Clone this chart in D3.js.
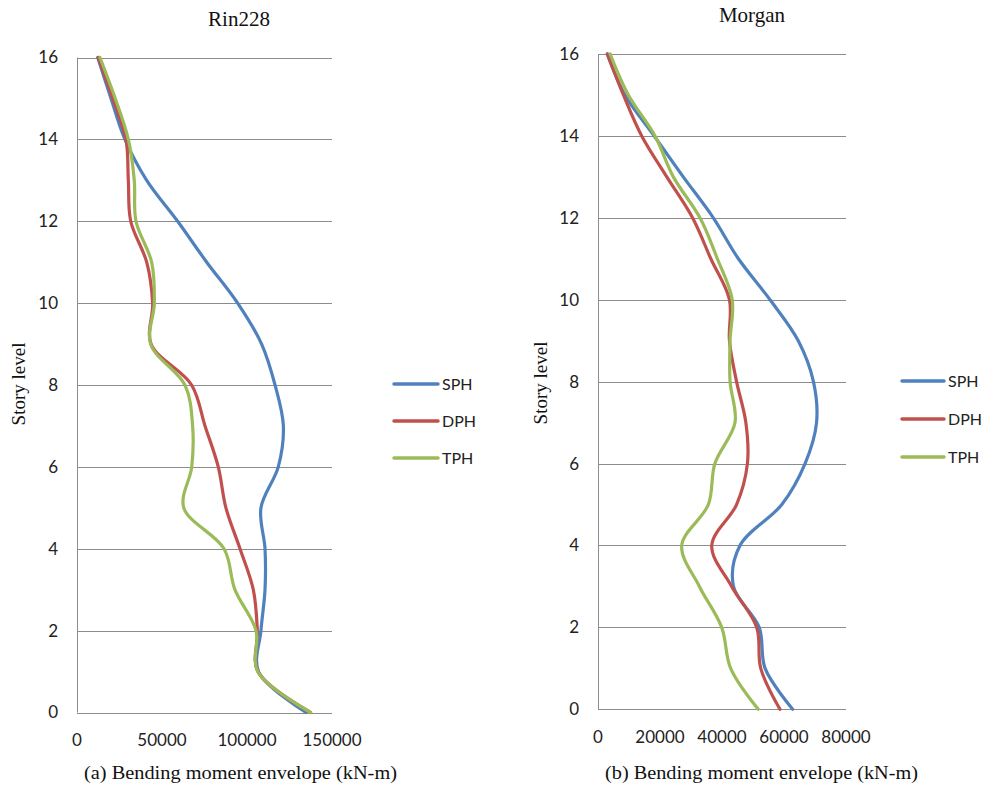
<!DOCTYPE html>
<html>
<head>
<meta charset="utf-8">
<script src="https://cdn.jsdelivr.net/npm/d3@7"></script>
<style>
  body { margin: 0; background: #fff; }
  svg { display: block; }
</style>
</head>
<body>
<div id="chart"></div>
<script>
// story levels 0..16
const levels = d3.range(0, 17);
const seriesNames = ["SPH", "DPH", "TPH"];
const colors = ["#4F81BD", "#C0504D", "#9BBB59"];
const yTicks = [0, 2, 4, 6, 8, 10, 12, 14, 16];

// (a) Rin228, values from level 0 to level 16
const rinSPH = [134700, 106800, 108200, 110600, 110600, 108200, 118400, 121400, 116500, 108600, 94500, 76300, 59200, 41000, 28200, 20000, 12200];
const rinDPH = [137400, 106400, 106100, 103700, 95900, 87600, 83100, 75300, 67400, 43600, 44500, 41000, 31600, 30200, 28800, 21000, 12500];
const rinTPH = [137400, 106300, 105300, 92900, 86500, 62800, 67500, 68000, 63500, 43300, 45500, 43900, 34700, 33700, 30200, 22500, 13500];
const rinTicks = [0, 50000, 100000, 150000];

// (b) Morgan
const morSPH = [62800, 53900, 52000, 43700, 45800, 59300, 66800, 70500, 69500, 64600, 55500, 45300, 37200, 27500, 18100, 8700, 3000];
const morDPH = [58700, 52500, 51200, 43100, 36700, 44700, 48200, 47700, 44700, 42400, 42400, 36400, 30500, 22200, 14100, 8200, 3000];
const morTPH = [51700, 42800, 39900, 32700, 27000, 35600, 37700, 44200, 42600, 42600, 43300, 38500, 32900, 24300, 18400, 9800, 3900];
const morTicks = [0, 20000, 40000, 60000, 80000];

const W = 984, H = 785;
const svg = d3.select("#chart").append("svg")
    .attr("width", W)
    .attr("height", H);

const sansFont = "Lato, 'Open Sans', sans-serif";
const serifFont = "'Liberation Serif', 'Times New Roman', serif";

function drawPanel(opt) {
    let x = d3.scaleLinear().domain([0, opt.xmax]).range([opt.left, opt.right]);
    let y = d3.scaleLinear().domain([0, 16]).range([opt.bottom, opt.top]);

    let g = svg.append("g");

    // horizontal gridlines
    g.selectAll(".grid")
        .data(yTicks)
        .join("line")
            .attr("x1", opt.left)
            .attr("x2", opt.right)
            .attr("y1", d => Math.round(y(d)) + 0.5)
            .attr("y2", d => Math.round(y(d)) + 0.5)
            .attr("stroke", "#8c8c8c")
            .attr("stroke-width", 1);

    // vertical axis line
    g.append("line")
        .attr("x1", Math.round(opt.left) + 0.5)
        .attr("x2", Math.round(opt.left) + 0.5)
        .attr("y1", opt.top)
        .attr("y2", opt.bottom)
        .attr("stroke", "#8c8c8c");

    // y tick labels
    g.selectAll(".ylab")
        .data(yTicks)
        .join("text")
            .attr("x", opt.left - 19)
            .attr("y", d => y(d))
            .attr("dy", "0.35em")
            .attr("text-anchor", "end")
            .style("font-family", sansFont)
            .style("font-size", "17px")
            .attr("fill", "#222")
            .text(d => d);

    // x tick labels
    g.selectAll(".xlab")
        .data(opt.ticks)
        .join("text")
            .attr("x", d => x(d))
            .attr("y", opt.bottom + 28)
            .attr("dy", "0.35em")
            .attr("text-anchor", "middle")
            .style("font-family", sansFont)
            .style("font-size", "17px")
            .attr("fill", "#222")
            .text(d => d);

    // lines
    let line = d3.line()
        .x(d => x(d[0]))
        .y(d => y(d[1]))
        .curve(d3.curveCatmullRom.alpha(0.5));

    opt.series.forEach((vals, i) => {
        g.append("path")
            .datum(vals.map((v, k) => [v, levels[k]]))
            .attr("d", line)
            .attr("fill", "none")
            .attr("stroke", colors[i])
            .attr("stroke-width", 3.2)
            .attr("stroke-linejoin", "round")
            .attr("stroke-linecap", "round");
    });

    // title
    g.append("text")
        .attr("x", opt.titleX)
        .attr("y", opt.titleY)
        .attr("dy", "0.35em")
        .attr("text-anchor", "middle")
        .style("font-family", serifFont)
        .style("font-size", "21px")
        .attr("fill", "#111")
        .text(opt.title);

    // x axis title
    g.append("text")
        .attr("x", opt.xTitleX)
        .attr("y", 772)
        .attr("dy", "0.35em")
        .attr("text-anchor", "start")
        .attr("textLength", opt.xTitleW)
        .attr("lengthAdjust", "spacingAndGlyphs")
        .style("font-family", serifFont)
        .style("font-size", "19px")
        .attr("fill", "#111")
        .text(opt.xTitle);

    // y axis title
    g.append("text")
        .attr("transform", `translate(${opt.yTitleX}, ${opt.yTitleY}) rotate(-90)`)
        .attr("dy", "0.35em")
        .attr("text-anchor", "middle")
        .style("font-family", serifFont)
        .style("font-size", "19px")
        .attr("fill", "#111")
        .text("Story level");

    // legend
    let leg = g.append("g")
        .attr("transform", `translate(${opt.legX}, 0)`);
    seriesNames.forEach((name, i) => {
        let ly = opt.legY[i];
        leg.append("line")
            .attr("x1", 0)
            .attr("x2", opt.legLen)
            .attr("y1", ly)
            .attr("y2", ly)
            .attr("stroke", colors[i])
            .attr("stroke-width", 3.5)
            .attr("stroke-linecap", "round");
        leg.append("text")
            .attr("x", opt.legLen + 4)
            .attr("y", ly)
            .attr("dy", "0.35em")
            .style("font-family", sansFont)
            .style("font-size", "16px")
            .attr("fill", "#222")
            .text(name);
    });
}

drawPanel({
    left: 77, right: 332, top: 57.5, bottom: 712.5,
    xmax: 150000, ticks: rinTicks,
    series: [rinSPH, rinDPH, rinTPH],
    title: "Rin228", titleX: 239, titleY: 19,
    xTitle: "(a) Bending moment envelope (kN-m)", xTitleX: 84, xTitleW: 313,
    yTitleX: 18, yTitleY: 384,
    legX: 394, legLen: 44, legY: [384, 421, 458]
});

drawPanel({
    left: 598, right: 846, top: 54, bottom: 709.3,
    xmax: 80000, ticks: morTicks,
    series: [morSPH, morDPH, morTPH],
    title: "Morgan", titleX: 752, titleY: 15,
    xTitle: "(b) Bending moment envelope (kN-m)", xTitleX: 605, xTitleW: 313,
    yTitleX: 540, yTitleY: 383,
    legX: 902, legLen: 42, legY: [381, 419, 457]
});
</script>
</body>
</html>
